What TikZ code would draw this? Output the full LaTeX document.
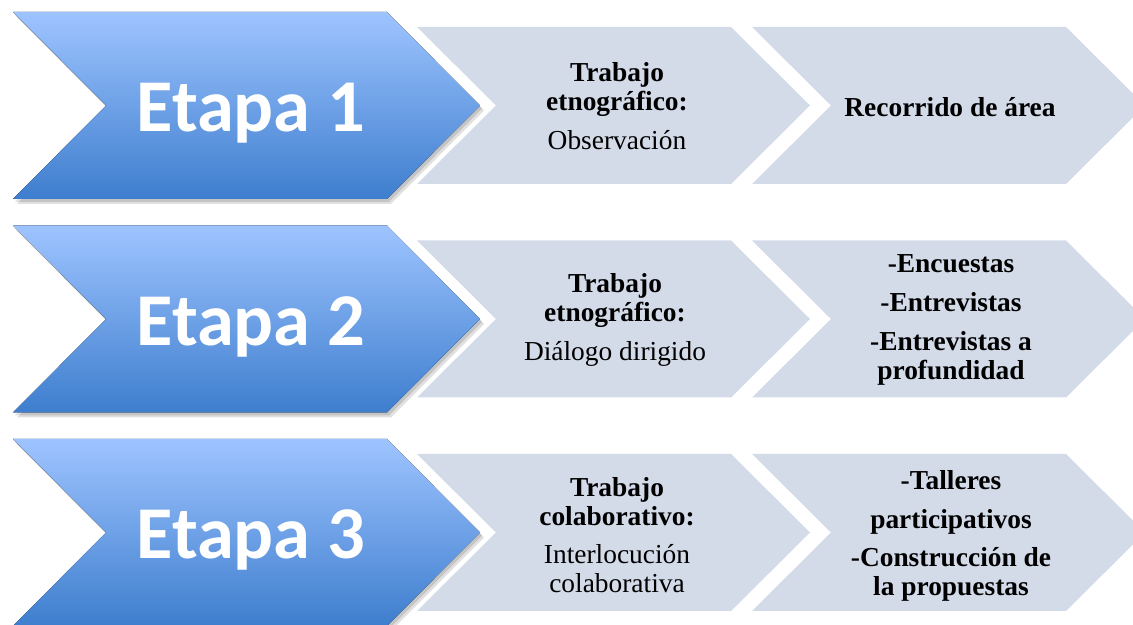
\documentclass[tikz,border=0pt]{standalone}
\usepackage{fontspec}
\setmainfont{Liberation Serif}
\newfontfamily\etapafont{Carlito}
\usetikzlibrary{positioning}

\definecolor{etapatop}{RGB}{158,196,255}
\definecolor{etapabot}{RGB}{62,126,206}
\definecolor{pasogray}{RGB}{211,218,232}

% x, y, width, height, depth of the point
\newcommand{\flecha}[5]{(#1,#2) -- ({#1+#3-#5},#2) -- ({#1+#3},{#2+#4/2}) -- ({#1+#3-#5},{#2+#4}) -- (#1,{#2+#4}) -- ({#1+#5},{#2+#4/2}) -- cycle}

\begin{document}
\begin{tikzpicture}[x=0.25mm, y=-0.25mm,
  etapa/.style={top color=etapatop, bottom color=etapabot},
  borde/.style={draw=white, fill=white, line width=2.5mm},
  sombra/.style={fill=black, opacity=0.12},
  paso/.style={fill=pasogray},
  etapatext/.style={anchor=base, text=white, font=\etapafont\bfseries\fontsize{53}{53}\selectfont},
  pasotext/.style={align=center, font=\fontsize{19.5}{20.5}\selectfont}]
\useasboundingbox (0,0) rectangle (1133,625);
\clip (0,0) rectangle (1133,625);

% Etapa 1
\fill[paso] \flecha{417}{27}{393}{157}{79};
\fill[paso] \flecha{752}{27}{393}{157}{79};
\filldraw[borde] \flecha{13}{12}{467}{187}{93};
\fill[sombra] \flecha{15}{15}{467}{187}{93};
\fill[sombra] \flecha{17}{17}{467}{187}{93};
\fill[etapa] \flecha{13}{12}{467}{187}{93};
\node[etapatext] (etapa1) at (251,132) {Etapa 1};
\node[pasotext] (trabajo1) at (617,106) {\textbf{Trabajo}\\\textbf{etnográfico:}\\[7pt]Observación};
\node[pasotext] (accion1) at (950,107) {\textbf{Recorrido de área}};

% Etapa 2
\fill[paso] \flecha{417}{240.5}{393}{157}{79};
\fill[paso] \flecha{752}{240.5}{393}{157}{79};
\filldraw[borde] \flecha{13}{225.5}{467}{187}{93};
\fill[sombra] \flecha{15}{228.5}{467}{187}{93};
\fill[sombra] \flecha{17}{230.5}{467}{187}{93};
\fill[etapa] \flecha{13}{225.5}{467}{187}{93};
\node[etapatext] (etapa2) at (251,345.5) {Etapa 2};
\node[pasotext] (trabajo2) at (615,320) {\textbf{Trabajo}\\\textbf{etnográfico:}\\[7pt]Diálogo dirigido};
\node[pasotext] (accion2) at (951,320) {\textbf{-Encuestas}\\[7pt]\textbf{-Entrevistas}\\[7pt]\textbf{-Entrevistas a}\\\textbf{profundidad}};

% Etapa 3
\fill[paso] \flecha{417}{454}{393}{157}{79};
\fill[paso] \flecha{752}{454}{393}{157}{79};
\filldraw[borde] \flecha{13}{439}{467}{187}{93};
\fill[sombra] \flecha{15}{442}{467}{187}{93};
\fill[sombra] \flecha{17}{444}{467}{187}{93};
\fill[etapa] \flecha{13}{439}{467}{187}{93};
\node[etapatext] (etapa3) at (251,559) {Etapa 3};
\node[pasotext] (trabajo3) at (617,535) {\textbf{Trabajo}\\\textbf{colaborativo:}\\[7pt]Interlocución\\colaborativa};
\node[pasotext] (accion3) at (951,536) {\textbf{-Talleres}\\[7pt]\textbf{participativos}\\[7pt]\textbf{-Construcción de}\\\textbf{la propuestas}};
\end{tikzpicture}
\end{document}
